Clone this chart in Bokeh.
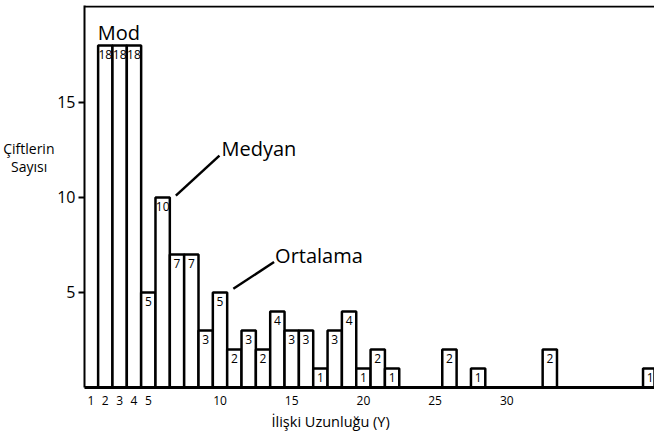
from bokeh.plotting import figure
from bokeh.models import Label, Span, FixedTicker, ColumnDataSource, LinearAxis, Title
from bokeh.core.properties import value
from bokeh.embed import file_html
from bokeh.resources import INLINE

# Data: relationship length (years) and number of couples
lengths = [2, 3, 4, 5, 6, 7, 8, 9, 10, 11, 12, 13, 14, 15, 16, 17, 18, 19, 20, 21, 22, 26, 28, 33, 40]
counts = [18, 18, 18, 5, 10, 7, 7, 3, 5, 2, 3, 2, 4, 3, 3, 1, 3, 4, 1, 2, 1, 2, 1, 2, 1]
x_ticks = [1, 2, 3, 4, 5, 10, 15, 20, 25, 30]
y_ticks = [5, 10, 15]

FONT = "Open Sans"

src = ColumnDataSource(dict(x=lengths, top=counts, label=[str(c) for c in counts]))

p = figure(width=654, height=437, x_range=(0.55, 40.3), y_range=(0, 20.1),
           output_backend="svg", toolbar_location=None,
           min_border_left=84, min_border_right=0, min_border_top=5, min_border_bottom=50)
p.outline_line_color = None
p.grid.visible = False
p.background_fill_color = "white"

p.vbar(x="x", top="top", width=1.0, bottom=0, source=src,
       fill_color="white", line_color="black", line_width=2.5)
p.text(x="x", y="top", text="label", source=src, text_align="center",
       text_baseline="top", y_offset=5, text_font=value(FONT),
       text_font_size="12px", text_color="black")

# top frame line
p.add_layout(Span(location=20.05, dimension="width", line_color="black", line_width=2))

# axes
p.xaxis.ticker = FixedTicker(ticks=x_ticks)
p.xaxis.major_tick_line_color = None
p.xaxis.minor_tick_line_color = None
p.xaxis.axis_line_width = 3
p.xaxis.axis_line_color = "black"
p.xaxis.major_label_text_font = FONT
p.xaxis.major_label_text_font_size = "12px"
p.xaxis.major_label_text_color = "black"
p.xaxis.major_label_standoff = 2

p.yaxis.ticker = FixedTicker(ticks=y_ticks)
p.yaxis.minor_tick_line_color = None
p.yaxis.major_tick_in = 0
p.yaxis.major_tick_out = 6
p.yaxis.major_tick_line_width = 2
p.yaxis.axis_line_width = 2
p.yaxis.axis_line_color = "black"
p.yaxis.major_label_text_font = FONT
p.yaxis.major_label_text_font_size = "16px"
p.yaxis.major_label_text_color = "black"
p.yaxis.major_label_standoff = 3

# y-axis caption (horizontal, upper left) as an extra label-only axis
NB = "\u00a0"
cap_axis = LinearAxis(ticker=FixedTicker(ticks=[12.1]),
                      major_label_overrides={12.1: "Çiftlerin\nSayısı" + NB * 2},
                      axis_line_color=None, major_tick_line_color=None,
                      minor_tick_line_color=None, major_tick_in=0, major_tick_out=0,
                      major_label_standoff=0, major_label_text_font=FONT,
                      major_label_text_font_size="14px", major_label_text_color="black",
                      major_label_text_line_height=0.95)
p.add_layout(cap_axis, "left")

# x-axis caption
p.add_layout(Title(text="İlişki Uzunluğu (Y)", align="left", offset=187,
                   text_font=FONT, text_font_size="14.5px", text_font_style="normal",
                   text_color="black", standoff=4), "below")

# annotations
p.add_layout(Label(x=2.95, y=18.7, text="Mod", text_align="center", text_baseline="middle",
                   text_font=FONT, text_font_size="20px", text_color="black"))
p.segment(x0=[6.92], y0=[10.1], x1=[9.96], y1=[12.2], line_color="black", line_width=2.5)
p.add_layout(Label(x=10.1, y=12.6, text="Medyan", text_align="left", text_baseline="middle",
                   text_font=FONT, text_font_size="20px", text_color="black"))
p.segment(x0=[10.93], y0=[5.2], x1=[13.77], y1=[6.6], line_color="black", line_width=2.5)
p.add_layout(Label(x=13.84, y=6.95, text="Ortalama", text_align="left", text_baseline="middle",
                   text_font=FONT, text_font_size="20px", text_color="black"))

open("out.html", "w").write(file_html(p, INLINE))
